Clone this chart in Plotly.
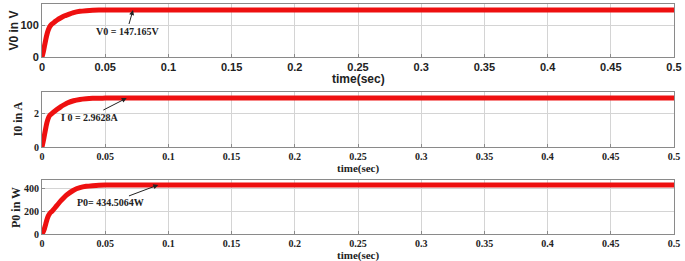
import plotly.graph_objects as go

W, H = 685, 261

# ---- data ----
t_v = [0, 0.001, 0.002, 0.003, 0.004, 0.005, 0.006, 0.007, 0.008, 0.01, 0.012, 0.015, 0.018, 0.02, 0.025, 0.03, 0.035, 0.04, 0.045, 0.05, 0.1, 0.2, 0.3, 0.4, 0.5]
v0 = [0, 15, 35, 55, 72, 85, 94, 100, 104, 110, 116, 123, 129, 132, 139, 143, 145, 146.3, 146.9, 147.1, 147.165, 147.165, 147.165, 147.165, 147.165]

t_i = [0, 0.001, 0.002, 0.003, 0.004, 0.005, 0.006, 0.007, 0.008, 0.01, 0.012, 0.015, 0.018, 0.02, 0.025, 0.03, 0.035, 0.04, 0.045, 0.05, 0.1, 0.2, 0.3, 0.4, 0.5]
i0 = [0, 0.35, 0.75, 1.15, 1.5, 1.75, 1.9, 1.98, 2.04, 2.16, 2.28, 2.45, 2.58, 2.66, 2.8, 2.88, 2.92, 2.945, 2.955, 2.96, 2.9628, 2.9628, 2.9628, 2.9628, 2.9628]

t_p = [0, 0.001, 0.002, 0.003, 0.004, 0.005, 0.006, 0.007, 0.008, 0.01, 0.012, 0.015, 0.018, 0.02, 0.025, 0.03, 0.035, 0.04, 0.045, 0.05, 0.1, 0.2, 0.3, 0.4, 0.5]
p0 = [0, 20, 50, 90, 130, 160, 180, 192, 202, 228, 255, 295, 330, 350, 388, 410, 422, 428, 432, 433.5, 434.5064, 434.5064, 434.5064, 434.5064, 434.5064]

x_ticks = [0, 0.05, 0.1, 0.15, 0.2, 0.25, 0.3, 0.35, 0.4, 0.45, 0.5]
x_tick_text = ["0", "0.05", "0.1", "0.15", "0.2", "0.25", "0.3", "0.35", "0.4", "0.45", "0.5"]

SANS = "Arial, Liberation Sans, sans-serif"
SERIF = "Times New Roman, Liberation Serif, serif"

panels = [
    dict(t=t_v, y=v0, rng=[0, 166], ticks=[0, 100], ylabel="V0 in V", note="V0 = 147.165V",
         top=4, bot=57, font=SANS, tsize=11, lsize=12, xsize=12,
         arrow=(0.072, 147.165), ax=-6, ay=21, xlab_y=79, ylab_x=14),
    dict(t=t_i, y=i0, rng=[0, 3.33], ticks=[0, 2], ylabel="I0 in A", note="I 0 = 2.9628A",
         top=92, bot=147, font=SERIF, tsize=10, lsize=12, xsize=11,
         arrow=(0.067, 2.9628), ax=-37, ay=19, xlab_y=168, ylab_x=17),
    dict(t=t_p, y=p0, rng=[0, 478], ticks=[0, 200, 400], ylabel="P0 in W", note="P0= 434.5064W",
         top=180, bot=234, font=SERIF, tsize=10, lsize=12, xsize=11,
         arrow=(0.092, 434.5064), ax=-48, ay=18, xlab_y=255, ylab_x=16),
]

fig = go.Figure()
x0, x1 = 42 / W, 674 / W
annotations = []
for k, p in enumerate(panels, start=1):
    xa = "x" if k == 1 else f"x{k}"
    ya = "y" if k == 1 else f"y{k}"
    fig.add_trace(go.Scatter(x=p["t"], y=p["y"], mode="lines", xaxis=xa, yaxis=ya,
                             line=dict(color="#ee1010", width=5, shape="spline", smoothing=0.6),
                             showlegend=False, hoverinfo="skip", cliponaxis=True))
    dom_y = [1 - p["bot"] / H, 1 - p["top"] / H]
    tickfont = dict(family=p["font"], size=p["tsize"], color="#222222", weight="bold")
    fig.update_layout(**{
        ("xaxis" if k == 1 else f"xaxis{k}"): dict(
            domain=[x0, x1], range=[0, 0.5], anchor=ya, tickvals=x_ticks, ticktext=x_tick_text,
            showgrid=True, gridcolor="#d4d4d4", gridwidth=1, zeroline=False, automargin=False,
            showline=True, linecolor="#8a8a8a", linewidth=1, mirror=True,
            ticks="inside", ticklen=3, tickcolor="#8a8a8a", tickfont=tickfont),
        ("yaxis" if k == 1 else f"yaxis{k}"): dict(
            domain=dom_y, range=p["rng"], anchor=xa, tickvals=p["ticks"],
            showgrid=True, gridcolor="#d4d4d4", gridwidth=1, zeroline=False, automargin=False,
            showline=True, linecolor="#8a8a8a", linewidth=1, mirror=True,
            ticks="inside", ticklen=3, tickcolor="#8a8a8a", tickfont=tickfont),
    })
    annotations.append(dict(text="time(sec)", xref="paper", yref="paper",
                            x=358 / W, y=1 - p["xlab_y"] / H, xanchor="center", yanchor="middle",
                            showarrow=False,
                            font=dict(family=p["font"], size=p["xsize"], color="#222222", weight="bold")))
    annotations.append(dict(text=p["ylabel"], xref="paper", yref="paper", textangle=-90,
                            x=p["ylab_x"] / W, y=1 - (p["top"] + p["bot"]) / 2 / H,
                            xanchor="center", yanchor="middle", showarrow=False,
                            font=dict(family=p["font"], size=p["lsize"], color="#222222", weight="bold")))
    annotations.append(dict(text=p["note"], xref=xa, yref=ya, x=p["arrow"][0], y=p["arrow"][1],
                            ax=p["ax"], ay=p["ay"], showarrow=True, arrowhead=2,
                            arrowsize=1, arrowwidth=1, arrowcolor="#222222",
                            font=dict(family=SERIF, size=10, color="#222222", weight="bold")))

fig.update_layout(width=W, height=H, margin=dict(l=0, r=0, t=0, b=0, autoexpand=False),
                  paper_bgcolor="white", plot_bgcolor="white", annotations=annotations)

fig.write_html("out.html", config={"displayModeBar": False, "staticPlot": True},
               post_script="document.body.style.margin='0';document.body.style.overflow='hidden';")
